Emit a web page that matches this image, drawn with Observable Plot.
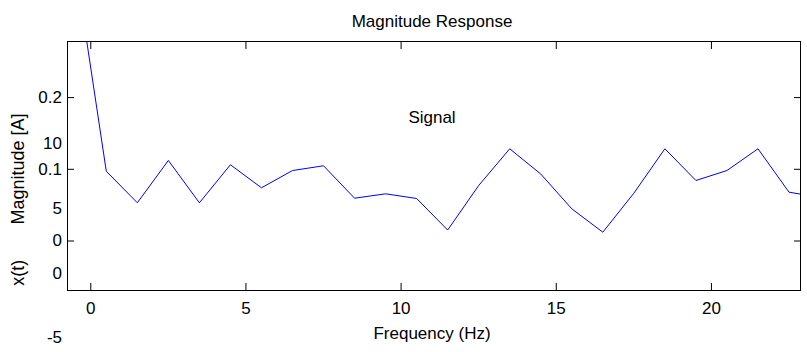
<!DOCTYPE html>
<html>
<head>
<meta charset="utf-8">
<script src="https://cdn.jsdelivr.net/npm/d3@7"></script>
<script src="https://cdn.jsdelivr.net/npm/@observablehq/plot@0.6"></script>
<style>
  html, body { margin: 0; padding: 0; background: #fff; }
  #chart { position: relative; width: 807px; height: 352px; }
  #chart svg { position: absolute; left: 0; top: 0; }
</style>
</head>
<body>
<div id="chart"></div>
<script>
// Spectrum bins (Hz) and magnitudes (A)
const freqHz = [-0.5, 0.5, 1.5, 2.5, 3.5, 4.5, 5.5, 6.5, 7.5, 8.5, 9.5, 10.5,
  11.5, 12.5, 13.5, 14.5, 15.5, 16.5, 17.5, 18.5, 19.5, 20.5, 21.5, 22.5, 23.5];
const magnitude = [0.385, 0.0973, 0.0533, 0.1123, 0.0533, 0.1063, 0.0742, 0.0983,
  0.1049, 0.0597, 0.0658, 0.0593, 0.0153, 0.0774, 0.1286, 0.0934, 0.0449, 0.0123,
  0.0667, 0.1286, 0.0844, 0.0983, 0.1286, 0.0681, 0.0607];

// Axis ticks
const freqTicks = [0, 5, 10, 15, 20];
const magTicks = [0, 0.1, 0.2];
const signalTicks = [-5, 0, 5, 10];

// Texts
const magTitle = "Magnitude Response";
const magXLabel = "Frequency (Hz)";
const magYLabel = "Magnitude [A]";
const signalTitle = "Signal";
const signalYLabel = "x(t)";

const font = "'Liberation Sans', Arial, Helvetica, sans-serif";
const W = 807, H = 352;
const plain = d => String(d);

// Time-signal axes sitting underneath the spectrum axes
const signalPlot = Plot.plot({
  width: W, height: H,
  marginLeft: 67, marginRight: 7, marginTop: 143, marginBottom: 14.5,
  style: { fontFamily: font, fontSize: "17px", background: "transparent", color: "black" },
  y: { domain: [-5, 10] },
  marks: [
    Plot.axisY(signalTicks, { tickSize: 0, tickPadding: 5.5, tickFormat: plain, label: null }),
    Plot.text([signalTitle], { frameAnchor: "top", lineAnchor: "middle", dy: -25.5, dx: -2, fill: "black" }),
    Plot.text([signalYLabel], { frameAnchor: "left", textAnchor: "middle", lineAnchor: "middle",
      dx: -49, dy: 32, rotate: -90, fontSize: 18, fill: "black" })
  ]
});

// Magnitude spectrum axes
const magPlot = Plot.plot({
  width: W, height: H,
  marginLeft: 67, marginRight: 7, marginTop: 41, marginBottom: 62,
  style: { fontFamily: font, fontSize: "17px", background: "transparent", color: "black" },
  x: { domain: [-0.75, 22.87] },
  y: { domain: [-0.069, 0.2782] },
  marks: [
    Plot.lineY(magnitude, { x: (d, i) => freqHz[i], y: d => d, stroke: "#0000ff", strokeWidth: 1, clip: true }),
    Plot.frame({ stroke: "black" }),
    Plot.axisX(freqTicks, { anchor: "bottom", tickSize: -7, fill: "none" }),
    Plot.axisX(freqTicks, { anchor: "top", tickSize: -7, fill: "none" }),
    Plot.axisY(magTicks, { anchor: "left", tickSize: -7, fill: "none" }),
    Plot.axisY(magTicks, { anchor: "right", tickSize: -7, fill: "none" }),
    Plot.axisX(freqTicks, { anchor: "bottom", tickSize: 0, tickPadding: 11, tickFormat: plain, label: null }),
    Plot.axisY(magTicks, { anchor: "left", tickSize: 0, tickPadding: 5.5, tickFormat: plain, label: null }),
    Plot.text([magTitle], { frameAnchor: "top", lineAnchor: "middle", dy: -20, dx: -2, fill: "black" }),
    Plot.text([magXLabel], { frameAnchor: "bottom", lineAnchor: "middle", dy: 43, dx: -2, fill: "black" }),
    Plot.text([magYLabel], { frameAnchor: "left", textAnchor: "middle", lineAnchor: "middle",
      dx: -49, dy: 3, rotate: -90, fontSize: 18, fill: "black" })
  ]
});

const chart = document.getElementById("chart");
chart.appendChild(signalPlot);
chart.appendChild(magPlot);
</script>
</body>
</html>
